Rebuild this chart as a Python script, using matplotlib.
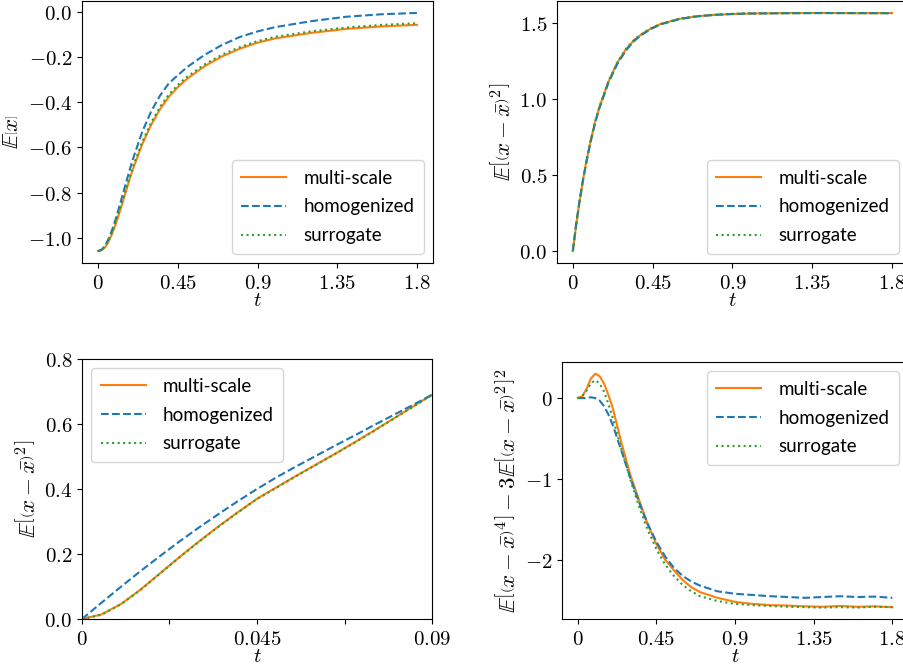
import matplotlib
matplotlib.use('Agg')
import matplotlib.pyplot as plt

plt.rcParams['mathtext.fontset'] = 'cm'
plt.rcParams['font.family'] = ['Lato', 'DejaVu Sans']

# --- E[x] over long time ---
t_mean = [0, 0.02, 0.04, 0.06, 0.08, 0.1, 0.125, 0.15, 0.175, 0.2, 0.25, 0.3, 0.35, 0.4, 0.45, 0.5,
          0.6, 0.7, 0.8, 0.9, 1.0, 1.2, 1.4, 1.6, 1.8]
mean_multi = [-1.06, -1.056, -1.043, -1.018, -0.983, -0.94, -0.88, -0.815, -0.75, -0.69, -0.585, -0.50,
              -0.43, -0.375, -0.333, -0.297, -0.24, -0.196, -0.162, -0.135, -0.116, -0.092, -0.074,
              -0.063, -0.056]
mean_homog = [-1.06, -1.054, -1.036, -1.006, -0.966, -0.918, -0.85, -0.78, -0.71, -0.645, -0.53, -0.44,
              -0.37, -0.315, -0.28, -0.245, -0.19, -0.145, -0.11, -0.085, -0.066, -0.04, -0.02,
              -0.009, -0.003]
mean_surr = [-1.06, -1.055, -1.04, -1.013, -0.976, -0.932, -0.871, -0.806, -0.741, -0.68, -0.575, -0.49,
             -0.42, -0.365, -0.323, -0.288, -0.232, -0.188, -0.155, -0.128, -0.109, -0.085, -0.068,
             -0.056, -0.049]

# --- variance over long time ---
t_var = [0, 0.02, 0.04, 0.06, 0.08, 0.1, 0.125, 0.15, 0.2, 0.25, 0.3, 0.35, 0.4, 0.45, 0.5, 0.6, 0.7,
         0.8, 0.9, 1.0, 1.2, 1.4, 1.6, 1.8]
var_multi = [0, 0.18, 0.34, 0.485, 0.61, 0.72, 0.845, 0.945, 1.11, 1.235, 1.325, 1.39, 1.432, 1.467,
             1.492, 1.524, 1.541, 1.550, 1.556, 1.559, 1.562, 1.563, 1.561, 1.562]
var_homog = [0, 0.19, 0.345, 0.485, 0.605, 0.715, 0.838, 0.938, 1.102, 1.226, 1.318, 1.384, 1.428, 1.463,
             1.489, 1.522, 1.540, 1.550, 1.556, 1.559, 1.561, 1.562, 1.562, 1.561]
var_surr = [0, 0.18, 0.34, 0.485, 0.61, 0.722, 0.847, 0.947, 1.112, 1.236, 1.327, 1.392, 1.434, 1.468,
            1.493, 1.525, 1.542, 1.551, 1.557, 1.560, 1.561, 1.562, 1.562, 1.561]

# --- variance over short time ---
t_short = [0, 0.005, 0.01, 0.015, 0.02, 0.025, 0.03, 0.035, 0.04, 0.045, 0.05, 0.055, 0.06, 0.065,
           0.07, 0.075, 0.08, 0.085, 0.09]
short_multi = [0, 0.014, 0.046, 0.09, 0.14, 0.19, 0.238, 0.284, 0.328, 0.37, 0.405, 0.44, 0.474,
               0.508, 0.543, 0.579, 0.616, 0.653, 0.69]
short_homog = [0, 0.05, 0.099, 0.147, 0.193, 0.238, 0.281, 0.322, 0.362, 0.40, 0.436, 0.469, 0.501,
               0.533, 0.564, 0.596, 0.627, 0.658, 0.69]
short_surr = [0, 0.013, 0.045, 0.089, 0.139, 0.189, 0.237, 0.283, 0.327, 0.369, 0.404, 0.439, 0.473,
              0.507, 0.542, 0.578, 0.615, 0.652, 0.689]

# --- excess kurtosis ---
t_kurt = [0, 0.025, 0.05, 0.075, 0.1, 0.125, 0.15, 0.175, 0.2, 0.25, 0.3, 0.35, 0.4, 0.45, 0.5, 0.55,
          0.6, 0.65, 0.7, 0.8, 0.9, 1.0, 1.1, 1.2, 1.3, 1.4, 1.5, 1.6, 1.7, 1.8]
kurt_multi = [0, 0.02, 0.11, 0.24, 0.30, 0.27, 0.18, 0.04, -0.12, -0.55, -0.94, -1.25, -1.55, -1.80,
              -1.99, -2.12, -2.24, -2.33, -2.39, -2.46, -2.51, -2.535, -2.55, -2.555, -2.565, -2.57,
              -2.56, -2.57, -2.565, -2.575]
kurt_homog = [0, 0.0, 0.0, 0.01, 0.0, -0.03, -0.10, -0.2, -0.33, -0.65, -0.98, -1.28, -1.55, -1.77,
              -1.95, -2.09, -2.19, -2.26, -2.31, -2.38, -2.41, -2.425, -2.44, -2.45, -2.46, -2.45,
              -2.44, -2.45, -2.445, -2.46]
kurt_surr = [0, 0.02, 0.09, 0.18, 0.22, 0.18, 0.08, -0.07, -0.24, -0.63, -1.0, -1.33, -1.62, -1.86,
             -2.05, -2.19, -2.30, -2.38, -2.44, -2.50, -2.535, -2.55, -2.56, -2.57, -2.575, -2.58,
             -2.575, -2.58, -2.57, -2.575]

labels = ['multi-scale', 'homogenized', 'surrogate']
long_ticks = [0, 0.45, 0.9, 1.35, 1.8]
long_ticklabels = ['$0$', '$0.45$', '$0.9$', '$1.35$', '$1.8$']
short_ticks = [0, 0.0225, 0.045, 0.0675, 0.09]
short_ticklabels = ['$0$', '', '$0.045$', '', '$0.09$']
mean_yticks = [-1.0, -0.8, -0.6, -0.4, -0.2, 0.0]
var_yticks = [0.0, 0.5, 1.0, 1.5]
short_yticks = [0.0, 0.2, 0.4, 0.6, 0.8]
kurt_yticks = [-2, -1, 0]

FS = 15
YFS = 16.5
LFS = 13.5


def draw(ax, t, multi, homog, surr, ylabel, loc):
  ax.plot(t, multi, color='tab:orange', ls='-', lw=1.5, label=labels[0])
  ax.plot(t, homog, color='tab:blue', ls='--', lw=1.5, label=labels[1])
  ax.plot(t, surr, color='tab:green', ls=':', lw=1.5, label=labels[2])
  ax.set_xlabel('$t$', fontsize=FS, labelpad=-2)
  ax.set_ylabel(ylabel, fontsize=YFS)
  ax.legend(loc=loc, fontsize=LFS, handlelength=2.4, handletextpad=0.9, labelspacing=0.63,
            borderpad=0.5)
  ax.tick_params(labelsize=FS)


def fmt(vals, nd):
  return ['$%.*f$' % (nd, v) for v in vals]


fig = plt.figure(figsize=(9.04, 6.71), dpi=100)
ax1 = fig.add_axes([0.0907, 0.608, 0.3883, 0.3905])
ax2 = fig.add_axes([0.616, 0.608, 0.3883, 0.3905])
ax3 = fig.add_axes([0.0907, 0.0775, 0.3872, 0.3875])
ax4 = fig.add_axes([0.6217, 0.0771, 0.3828, 0.3834])

draw(ax1, t_mean, mean_multi, mean_homog, mean_surr, r'$\mathbb{E}\left[x\right]$', 'lower right')
ax1.set_xticks(long_ticks, long_ticklabels)
ax1.set_yticks(mean_yticks, fmt(mean_yticks, 1))

draw(ax2, t_var, var_multi, var_homog, var_surr,
     r'$\mathbb{E}\left[\left(x-\bar{x}\right)^2\right]$', 'lower right')
ax2.set_xticks(long_ticks, long_ticklabels)
ax2.set_yticks(var_yticks, fmt(var_yticks, 1))

draw(ax3, t_short, short_multi, short_homog, short_surr,
     r'$\mathbb{E}\left[\left(x-\bar{x}\right)^2\right]$', 'upper left')
ax3.set_xticks(short_ticks, short_ticklabels)
ax3.set_yticks(short_yticks, fmt(short_yticks, 1))
ax3.set_xlim(0, 0.09)
ax3.set_ylim(0, 0.8)

draw(ax4, t_kurt, kurt_multi, kurt_homog, kurt_surr,
     r'$\mathbb{E}\left[\left(x-\bar{x}\right)^4\right]-3\mathbb{E}\left[\left(x-\bar{x}\right)^2\right]^2$',
     'upper right')
ax4.set_xticks(long_ticks, long_ticklabels)
ax4.set_yticks(kurt_yticks, fmt(kurt_yticks, 0))

fig.savefig('out.png', dpi=100)
